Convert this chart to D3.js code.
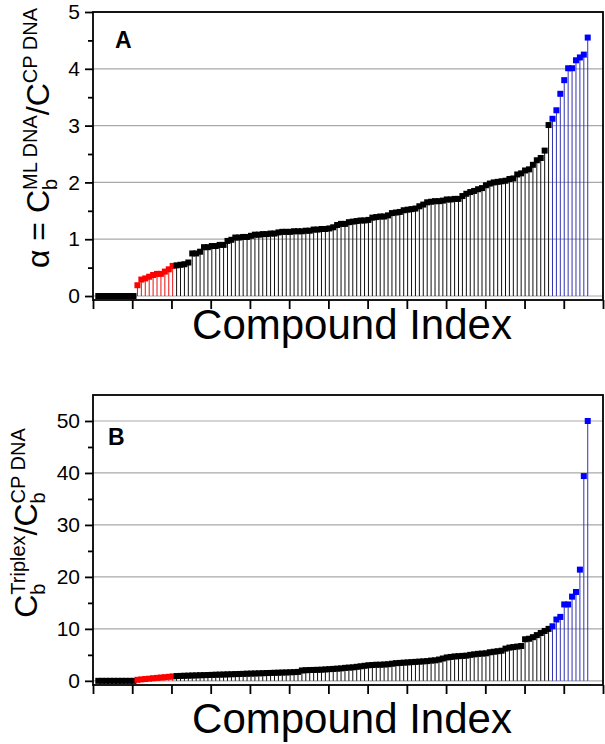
<!DOCTYPE html>
<html>
<head>
<meta charset="utf-8">
<script src="https://cdnjs.cloudflare.com/ajax/libs/d3/7.8.5/d3.min.js"></script>
<style>
  body { margin: 0; background: #fff; }
  svg { display: block; }
  text { font-family: "Liberation Sans", Arial, Helvetica, sans-serif; }
</style>
</head>
<body>
<svg width="605" height="744"></svg>
<script>
// compounds are sorted by value in each panel, groups run left to right
const groupNames = ['none', 'low', 'mid', 'high'];
const groupSizes = [10, 10, 96, 10];

// panel A: alpha = Cb(ML DNA) / C(CP DNA)
const alphaValues = [
  0, 0, 0, 0, 0, 0, 0, 0, 0, 0,
  0.19, 0.29, 0.31, 0.34, 0.37, 0.39, 0.39, 0.43, 0.47, 0.53,
  0.54, 0.55, 0.56, 0.59, 0.75, 0.75, 0.78, 0.86, 0.86, 0.88,
  0.88, 0.90, 0.90, 0.97, 0.99, 1.03, 1.03, 1.04, 1.04, 1.06,
  1.08, 1.08, 1.09, 1.09, 1.10, 1.10, 1.12, 1.13, 1.13, 1.13,
  1.14, 1.14, 1.14, 1.15, 1.15, 1.17, 1.17, 1.18, 1.18, 1.19,
  1.21, 1.25, 1.27, 1.27, 1.30, 1.31, 1.32, 1.33, 1.33, 1.34,
  1.38, 1.39, 1.40, 1.40, 1.42, 1.46, 1.47, 1.48, 1.51, 1.52,
  1.53, 1.54, 1.58, 1.61, 1.65, 1.66, 1.67, 1.67, 1.68, 1.70,
  1.70, 1.71, 1.71, 1.76, 1.80, 1.83, 1.85, 1.88, 1.90, 1.95,
  1.98, 2.00, 2.01, 2.02, 2.03, 2.06, 2.07, 2.14, 2.16, 2.21,
  2.23, 2.31, 2.39, 2.43, 2.56, 3.01,
  3.12, 3.27, 3.56, 3.80, 4.01, 4.01, 4.15, 4.20, 4.25, 4.55
];

// panel B: Cb(Triplex) / Cb(CP DNA)
const triplexValues = [
  0, 0, 0, 0, 0, 0, 0, 0, 0, 0,
  0.20, 0.28, 0.35, 0.42, 0.50, 0.57, 0.64, 0.70, 0.78, 0.85,
  0.92, 0.95, 0.98, 1.00, 1.03, 1.05, 1.08, 1.10, 1.12, 1.15,
  1.18, 1.20, 1.22, 1.25, 1.27, 1.30, 1.32, 1.35, 1.38, 1.40,
  1.42, 1.45, 1.47, 1.50, 1.52, 1.55, 1.57, 1.60, 1.62, 1.65,
  1.68, 1.72, 2.00, 2.05, 2.08, 2.10, 2.12, 2.15, 2.20, 2.25,
  2.30, 2.35, 2.40, 2.50, 2.55, 2.60, 2.70, 2.80, 2.90, 3.00,
  3.05, 3.10, 3.10, 3.15, 3.20, 3.30, 3.40, 3.45, 3.50, 3.55,
  3.60, 3.65, 3.70, 3.75, 3.80, 3.90, 3.95, 4.10, 4.30, 4.50,
  4.60, 4.70, 4.75, 4.80, 4.85, 5.00, 5.10, 5.20, 5.25, 5.30,
  5.50, 5.60, 5.70, 5.80, 6.20, 6.40, 6.50, 6.60, 6.70, 8.00,
  8.10, 8.40, 8.80, 9.20, 9.60, 10.0,
  10.5, 11.8, 12.3, 14.7, 14.7, 16.2, 17.1, 21.4, 39.4, 50.0
];

const alphaTicks = [0, 1, 2, 3, 4, 5];
const alphaMinor = [0.5, 1.5, 2.5, 3.5, 4.5];
const triplexTicks = [0, 10, 20, 30, 40, 50];
const triplexMinor = [5, 15, 25, 35, 45];

const markerFill = { none: '#000', low: '#ff0000', mid: '#000', high: '#0000ff' };
const stemColor = { none: '#111', low: '#e81010', mid: '#111', high: '#3434b4' };

const svg = d3.select('svg');
const left = 93, right = 603;

// group label for each compound position
const groupOf = [];
groupNames.forEach((g, k) => { for (let j = 0; j < groupSizes[k]; j++) groupOf.push(g); });

const x = d3.scaleLinear().domain([-0.35, 129.9]).range([left, right]);
const xTicks = d3.range(0, 14).map((k) => x.invert(left + k * (right - left) / 13));

function textWidth(str, size) {
  const t = svg.append('text').style('font-size', size + 'px').text(str);
  const w = t.node().getComputedTextLength();
  t.remove();
  return w;
}

function drawPanel(p) {
  const y = d3.scaleLinear().domain(p.yDomain).range([p.bottom, p.top]);
  const g = svg.append('g');
  const data = p.values.map((v, i) => ({ i: i + 1, v, g: groupOf[i] }));

  // grid
  g.append('g')
    .selectAll('line')
    .data(p.ticks)
    .enter()
    .append('line')
    .attr('x1', left)
    .attr('x2', right)
    .attr('y1', (d) => y(d))
    .attr('y2', (d) => y(d))
    .attr('stroke', '#a9a9a9')
    .attr('stroke-width', 1.2);

  // stems
  g.append('g')
    .selectAll('line')
    .data(data.filter((d) => d.v > 0))
    .enter()
    .append('line')
    .attr('x1', (d) => x(d.i))
    .attr('x2', (d) => x(d.i))
    .attr('y1', y(0))
    .attr('y2', (d) => y(d.v))
    .attr('stroke', (d) => stemColor[d.g])
    .attr('stroke-width', 1);

  // markers
  const s = 6;
  g.append('g')
    .selectAll('rect')
    .data(data)
    .enter()
    .append('rect')
    .attr('x', (d) => x(d.i) - s / 2)
    .attr('y', (d) => y(d.v) - s / 2)
    .attr('width', s)
    .attr('height', s)
    .attr('fill', (d) => markerFill[d.g]);

  // axes
  const yAxis = g.append('g')
    .attr('transform', `translate(${left},0)`)
    .call(d3.axisLeft(y).tickValues(p.ticks).tickSize(8).tickPadding(5).tickFormat(d3.format('d')));
  const yMinor = g.append('g')
    .attr('transform', `translate(${left},0)`)
    .call(d3.axisLeft(y).tickValues(p.minor).tickSize(5).tickFormat(''));
  const xAxis = g.append('g')
    .attr('transform', `translate(0,${p.bottom})`)
    .call(d3.axisBottom(x).tickValues(xTicks).tickSize(9).tickFormat(''));
  [yAxis, yMinor, xAxis].forEach((a) => {
    a.select('.domain').remove();
    a.selectAll('line').attr('stroke', '#000').attr('stroke-width', 1.8);
  });
  yAxis.selectAll('text')
    .style('font-size', '21px')
    .attr('fill', '#000');

  // frame
  g.append('rect')
    .attr('x', left)
    .attr('y', p.top)
    .attr('width', right - left)
    .attr('height', p.bottom - p.top)
    .attr('fill', 'none')
    .attr('stroke', '#000')
    .attr('stroke-width', 1.8);

  // panel letter
  g.append('text')
    .attr('x', p.letterX)
    .attr('y', p.letterY)
    .style('font-size', '23px')
    .style('font-weight', 'bold')
    .text(p.letter);

  // x title
  g.append('text')
    .attr('x', (left + right) / 2 + 4)
    .attr('y', p.xTitleY)
    .attr('text-anchor', 'middle')
    .style('font-size', '42px')
    .text('Compound Index');

  // y title, rotated, with sub/superscripts
  const big = 32, small = 20;
  const shift = { main: 0, sub: 8, sup: -12 };
  const title = g.append('text')
    .attr('transform', `translate(${p.yTitleX},${p.yTitleY}) rotate(-90)`)
    .attr('text-anchor', 'middle');
  let cur = 0;
  let lastSub = null;
  p.yTitle.forEach(([str, kind]) => {
    const t = title.append('tspan')
      .style('font-size', (kind === 'main' ? big : small) + 'px')
      .attr('dy', shift[kind] - cur)
      .text(str);
    if (kind === 'sup' && lastSub) t.attr('dx', -textWidth(lastSub, small));
    lastSub = kind === 'sub' ? str : null;
    cur = shift[kind];
  });
}

drawPanel({
  top: 12,
  bottom: 300,
  values: alphaValues,
  yDomain: [-0.07, 5],
  ticks: alphaTicks,
  minor: alphaMinor,
  letter: 'A',
  letterX: 115,
  letterY: 48,
  xTitleY: 339,
  yTitleX: 49,
  yTitleY: 138,
  yTitle: [['\u03b1 = C', 'main'], ['b', 'sub'], ['ML DNA', 'sup'], ['/C', 'main'], ['CP DNA', 'sup']]
});

drawPanel({
  top: 395,
  bottom: 685,
  values: triplexValues,
  yDomain: [-0.8, 55],
  ticks: triplexTicks,
  minor: triplexMinor,
  letter: 'B',
  letterX: 108,
  letterY: 445,
  xTitleY: 733,
  yTitleX: 37,
  yTitleY: 523,
  yTitle: [['C', 'main'], ['b', 'sub'], ['Triplex', 'sup'], ['/C', 'main'], ['b', 'sub'], ['CP DNA', 'sup']]
});
</script>
</body>
</html>
